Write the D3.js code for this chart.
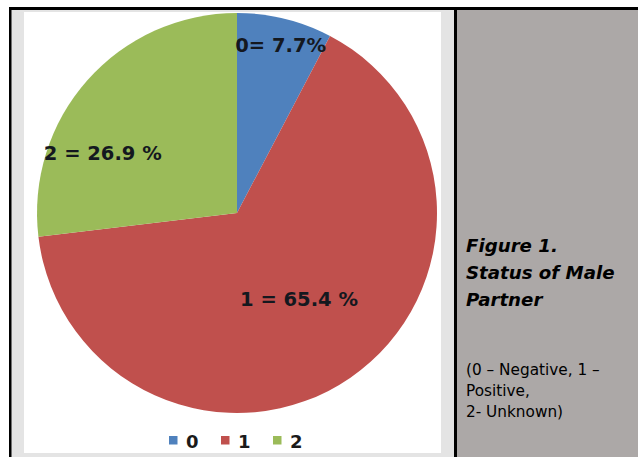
<!DOCTYPE html>
<html>
<head>
<meta charset="utf-8">
<script src="https://cdn.jsdelivr.net/npm/d3@7"></script>
<style>
  html, body { margin: 0; padding: 0; background: #ffffff; }
  svg { display: block; }
</style>
</head>
<body>
<svg id="fig" width="638" height="457"></svg>
<script>
// Status of male partner: share of each code
const categories = ["0", "1", "2"];
const shares = [7.7, 65.4, 26.9];
const sliceLabels = ["0= 7.7%", "1 = 65.4 %", "2 = 26.9 %"];
const colors = ["#4f81bd", "#c0504d", "#9bbb59"];

const captionTitle = ["Figure 1.", "Status of Male", "Partner"];
const captionNote = ["(0 \u2013 Negative, 1 \u2013", "Positive,", "2- Unknown)"];

const W = 638, H = 457;
const svg = d3.select("#fig");

// Table frame: left cell holds the chart, right cell holds the caption
svg.append("rect").attr("x", 11).attr("y", 10).attr("width", 443).attr("height", H - 10).attr("fill", "#e4e4e4");
svg.append("rect").attr("x", 24).attr("y", 12).attr("width", 417).attr("height", 441).attr("fill", "#ffffff");
svg.append("rect").attr("x", 457).attr("y", 10).attr("width", W - 457).attr("height", H - 10).attr("fill", "#aca8a7");
svg.append("rect").attr("x", 9).attr("y", 7).attr("width", W - 9).attr("height", 3).attr("fill", "#000");
svg.append("rect").attr("x", 9).attr("y", 7).attr("width", 2.5).attr("height", H - 7).attr("fill", "#000");
svg.append("rect").attr("x", 454).attr("y", 7).attr("width", 3).attr("height", H - 7).attr("fill", "#000");

// Pie
const cx = 237, cy = 213, radius = 200;
const pie = d3.pie().sort(null).value(d => d.value);
const data = categories.map((c, i) => ({ cat: c, value: shares[i], label: sliceLabels[i], color: colors[i] }));
const arcs = pie(data);
const arc = d3.arc().innerRadius(0).outerRadius(radius);

const g = svg.append("g").attr("transform", `translate(${cx},${cy})`);
g.selectAll("path.slice")
  .data(arcs)
  .join("path")
  .attr("class", "slice")
  .attr("d", arc)
  .attr("fill", d => d.data.color);

// Data labels: placed along each slice's mid-angle, with small nudges
const labelPlacement = [
  { k: 0.87, dx: 2, dy: 1 },
  { k: 0.52, dx: 3, dy: 0 },
  { k: 0.73, dx: -25, dy: 37 }
];
g.selectAll("text.lbl")
  .data(arcs)
  .join("text")
  .attr("class", "lbl")
  .attr("transform", (d, i) => {
    const p = labelPlacement[i];
    const a = d3.arc().innerRadius(radius * p.k).outerRadius(radius * p.k);
    const [x, y] = a.centroid(d);
    return `translate(${x + p.dx},${y + p.dy})`;
  })
  .attr("text-anchor", "middle")
  .attr("dy", "0.36em")
  .attr("font-family", "DejaVu Sans, Verdana, sans-serif")
  .attr("font-weight", "bold")
  .attr("font-size", 19.5)
  .attr("fill", "#14181f")
  .text(d => d.data.label);

// Legend
const legendX = d3.scalePoint().domain(categories).range([169, 273]);
const leg = svg.append("g").selectAll("g").data(data).join("g")
  .attr("transform", d => `translate(${legendX(d.cat)},436)`);
leg.append("rect").attr("width", 8.5).attr("height", 8.5).attr("fill", d => d.color);
leg.append("text")
  .attr("x", 17).attr("y", 12)
  .attr("font-family", "DejaVu Sans, Verdana, sans-serif")
  .attr("font-weight", "bold")
  .attr("font-size", 18)
  .attr("fill", "#1a1a1a")
  .text(d => d.cat);

// Caption
svg.append("g").selectAll("text").data(captionTitle).join("text")
  .attr("x", 466)
  .attr("y", (d, i) => 252 + i * 27)
  .attr("font-family", "DejaVu Sans, Verdana, sans-serif")
  .attr("font-weight", "bold")
  .attr("font-style", "italic")
  .attr("font-size", 18.2)
  .attr("fill", "#000")
  .text(d => d);

svg.append("g").selectAll("text").data(captionNote).join("text")
  .attr("x", 466)
  .attr("y", (d, i) => 375 + i * 21)
  .attr("font-family", "DejaVu Sans, Verdana, sans-serif")
  .attr("font-size", 15.3)
  .attr("fill", "#000")
  .text(d => d);
</script>
</body>
</html>
